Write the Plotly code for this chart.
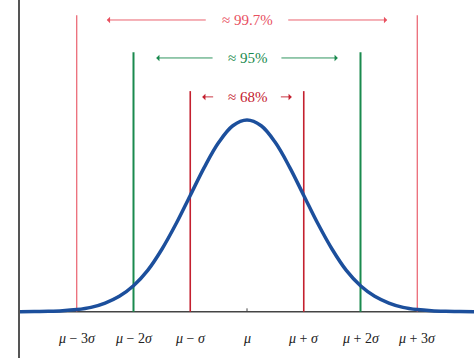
import plotly.graph_objects as go

# curve samples (in units of sigma)
xs = [-4, -3.75, -3.5, -3.25, -3, -2.75, -2.5, -2.25, -2, -1.75, -1.5, -1.25, -1, -0.75, -0.5, -0.25,
      0, 0.25, 0.5, 0.75, 1, 1.25, 1.5, 1.75, 2, 2.25, 2.5, 2.75, 3, 3.25, 3.5, 3.75, 4]
ys = [0.0001, 0.0004, 0.0009, 0.002, 0.0044, 0.009, 0.018, 0.032, 0.054, 0.086, 0.130, 0.183, 0.242, 0.301, 0.352, 0.387,
      0.399, 0.387, 0.352, 0.301, 0.242, 0.183, 0.130, 0.086, 0.054, 0.032, 0.018, 0.009, 0.0044, 0.002, 0.0009, 0.0004, 0.0001]

tick_vals = [-3, -2, -1, 0, 1, 2, 3]
tick_text = ["<i>μ</i> − 3<i>σ</i>", "<i>μ</i> − 2<i>σ</i>", "<i>μ</i> − <i>σ</i>", "<i>μ</i>",
             "<i>μ</i> + <i>σ</i>", "<i>μ</i> + 2<i>σ</i>", "<i>μ</i> + 3<i>σ</i>"]

# vertical bracket lines: multiplier, top height, colour, width
band_k = [1, 2, 3]
band_top = [0.459, 0.540, 0.617]
band_color = ["#c4202f", "#1a8a4e", "#e8505f"]
band_width = [1.6, 2.0, 1.1]
band_label = ["≈ 68%", "≈ 95%", "≈ 99.7%"]
band_label_y = [0.447, 0.528, 0.607]
arrow_tail = [0.57, 0.58, 0.70]
arrow_head = [0.79, 1.60, 2.47]

SERIF = "Liberation Serif"

fig = go.Figure()
fig.add_trace(go.Scatter(x=xs, y=ys, mode="lines", line=dict(color="#1c4f9c", width=3.5, shape="spline"),
                         hoverinfo="skip", showlegend=False))

shapes = []
annotations = []
# baseline (x-axis)
shapes.append(dict(type="line", xref="paper", yref="y", x0=0, x1=1, y0=0, y1=0,
                   line=dict(color="#444444", width=1.5), layer="below"))
# tick at mu
shapes.append(dict(type="line", xref="x", yref="y", x0=0, x1=0, y0=0, y1=0.007,
                   line=dict(color="#444444", width=1)))

for k, top, c, w, lab, ly, t, h in zip(band_k, band_top, band_color, band_width, band_label, band_label_y, arrow_tail, arrow_head):
    for s in (-1, 1):
        shapes.append(dict(type="line", xref="x", yref="y", x0=s * k, x1=s * k, y0=0, y1=top,
                           line=dict(color=c, width=w), layer="below"))
        annotations.append(dict(x=s * h, y=ly, ax=s * t, ay=ly, xref="x", yref="y", axref="x", ayref="y",
                                text="", showarrow=True, arrowhead=1, arrowsize=1.2, arrowwidth=0.9,
                                arrowcolor=c))
    annotations.append(dict(x=0, y=ly, xref="x", yref="y", text=lab, showarrow=False,
                            font=dict(family=SERIF, size=15, color=c)))

for v, t in zip(tick_vals, tick_text):
    annotations.append(dict(x=v, y=-0.0547, xref="x", yref="y", text=t, showarrow=False,
                            font=dict(family=SERIF, size=14, color="#222222")))

fig.update_layout(
    width=474, height=358,
    margin=dict(l=20, r=0, t=0, b=0, autoexpand=False),
    paper_bgcolor="white", plot_bgcolor="white",
    font=dict(family=SERIF),
    xaxis=dict(range=[-4, 4], showgrid=False, zeroline=False, showticklabels=False, ticks="", showline=False),
    yaxis=dict(range=[-0.0963, 0.6486], showgrid=False, zeroline=False, showticklabels=False, ticks="",
               showline=True, linecolor="#555555", linewidth=2),
    shapes=shapes, annotations=annotations,
)
fig.write_html("out.html", config={"displayModeBar": False},
               post_script="document.body.style.margin='0';document.body.style.overflow='hidden';")
